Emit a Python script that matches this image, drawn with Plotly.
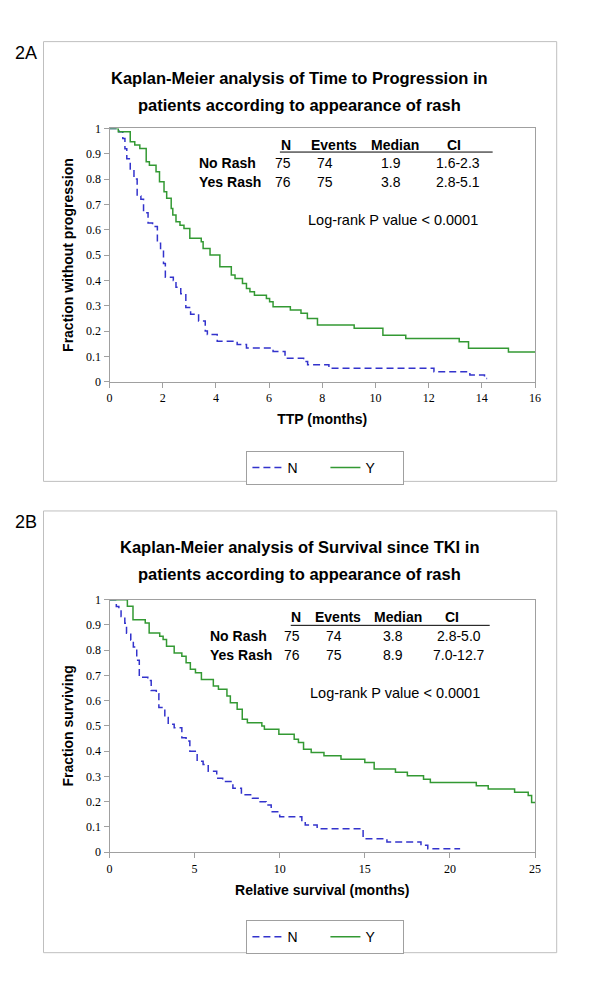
import plotly.graph_objects as go

# ---------------- Figure 2A : time to progression (months) ----------------
ttp_no_rash_t = [0, 0.35, 0.5, 0.58, 0.65, 0.78, 0.92, 1.04, 1.18, 1.28,
                 1.45, 1.62, 1.8, 1.92, 2.03, 2.1, 2.4, 2.5, 2.68, 2.87,
                 3.05, 3.35, 3.6, 3.68, 4.05, 4.8, 5.15, 6.15, 6.6, 7.3,
                 7.45, 8.25, 12.2, 13.55, 14.1, 14.2]
ttp_no_rash_s = [1.0, 0.987, 0.96, 0.92, 0.88, 0.84, 0.8, 0.733, 0.72, 0.667,
                 0.627, 0.613, 0.547, 0.52, 0.467, 0.413, 0.4, 0.373, 0.347, 0.293,
                 0.267, 0.24, 0.2, 0.187, 0.16, 0.147, 0.133, 0.12, 0.093, 0.08,
                 0.067, 0.053, 0.04, 0.027, 0.013, 0.013]
ttp_rash_t = [0, 0.33, 0.78, 0.95, 1.14, 1.38, 1.5, 1.75, 1.88, 2.05,
              2.15, 2.32, 2.38, 2.5, 2.65, 2.8, 3.02, 3.45, 3.52, 3.78,
              4.15, 4.58, 4.72, 5.0, 5.15, 5.28, 5.45, 5.9, 6.02, 6.15,
              6.8, 7.2, 7.44, 7.82, 9.2, 10.28, 11.14, 13.15, 13.5, 15.0,
              16.0]
ttp_rash_s = [1.0, 0.987, 0.947, 0.934, 0.921, 0.868, 0.855, 0.829, 0.789, 0.750,
              0.724, 0.684, 0.658, 0.632, 0.618, 0.605, 0.566, 0.553, 0.526, 0.500,
              0.454, 0.421, 0.408, 0.388, 0.368, 0.355, 0.342, 0.329, 0.316, 0.296,
              0.283, 0.270, 0.250, 0.224, 0.211, 0.184, 0.171, 0.158, 0.132, 0.118,
              0.118]

# ---------------- Figure 2B : survival since TKI (months) ----------------
os_no_rash_t = [0, 0.4, 0.55, 0.68, 0.9, 1.0, 1.25, 1.4, 1.6, 1.75,
                2.25, 2.45, 2.75, 2.9, 3.25, 3.45, 3.8, 4.25, 4.5, 4.72,
                5.15, 5.5, 5.8, 6.3, 6.65, 7.25, 7.75, 8.4, 8.85, 9.2,
                9.5, 10.0, 11.3, 11.5, 12.2, 14.9, 16.3, 18.3, 18.7, 20.6]
os_no_rash_s = [1.0, 0.973, 0.96, 0.933, 0.907, 0.867, 0.84, 0.813, 0.76, 0.693,
                0.68, 0.64, 0.627, 0.573, 0.533, 0.507, 0.493, 0.453, 0.44, 0.4,
                0.36, 0.347, 0.32, 0.293, 0.28, 0.253, 0.227, 0.213, 0.2, 0.187,
                0.16, 0.14, 0.12, 0.107, 0.093, 0.053, 0.04, 0.027, 0.013, 0.013]
os_rash_t = [0, 1.05, 1.38, 2.1, 2.33, 2.95, 3.15, 3.35, 3.8, 4.25,
             4.5, 4.75, 5.05, 5.4, 6.1, 6.4, 6.9, 7.1, 7.5, 7.8,
             8.1, 8.95, 9.1, 9.95, 10.85, 11.1, 11.4, 11.85, 12.6, 13.6,
             15.0, 15.55, 16.8, 17.5, 18.45, 18.85, 21.55, 22.25, 23.8, 24.6,
             24.8, 25.0]
os_rash_s = [1.0, 0.974, 0.921, 0.908, 0.868, 0.855, 0.842, 0.816, 0.789, 0.776,
             0.750, 0.724, 0.711, 0.684, 0.658, 0.645, 0.618, 0.592, 0.566, 0.526,
             0.513, 0.500, 0.487, 0.467, 0.447, 0.434, 0.408, 0.395, 0.382, 0.368,
             0.355, 0.329, 0.316, 0.303, 0.289, 0.276, 0.263, 0.250, 0.237, 0.224,
             0.197, 0.197]

series_names = ["N", "Y"]
ttp_ticks = [0, 2, 4, 6, 8, 10, 12, 14, 16]
os_ticks = [0, 5, 10, 15, 20, 25]
frac_ticks = [0, 0.1, 0.2, 0.3, 0.4, 0.5, 0.6, 0.7, 0.8, 0.9, 1]
frac_tick_labels = ["0", "0.1", "0.2", "0.3", "0.4", "0.5", "0.6", "0.7", "0.8", "0.9", "1"]

panel_labels = ["2A", "2B"]
panel_titles = [["Kaplan-Meier analysis of Time to Progression in",
                 "patients according to appearance of rash"],
                ["Kaplan-Meier analysis of Survival since TKI in",
                 "patients according to appearance of rash"]]
x_titles = ["TTP (months)", "Relative survival (months)"]
y_titles = ["Fraction without progression", "Fraction surviving"]
table_header = ["N", "Events", "Median", "CI"]
table_row_labels = ["No Rash", "Yes Rash"]
ttp_table = [["75", "74", "1.9", "1.6-2.3"], ["76", "75", "3.8", "2.8-5.1"]]
os_table = [["75", "74", "3.8", "2.8-5.0"], ["76", "75", "8.9", "7.0-12.7"]]
logrank_text = "Log-rank P value < 0.0001"

# ---------------- styling ----------------
W, H = 600, 1000
OFF = 8  # page body margin offset of the rendered figure
SANS = "Liberation Sans, Arial, sans-serif"
SERIF = "Liberation Serif, Times New Roman, serif"
BLUE = "#3333CC"
GREEN = "#339933"
AXIS_GREY = "#A0A0A0"
BOX_GREY = "#BFBFBF"


def px(x):
    return (x - OFF) / W


def py(y):
    return 1 - (y - OFF) / H


fig = go.Figure()

curves = [
    (ttp_no_rash_t, ttp_no_rash_s, ttp_rash_t, ttp_rash_s, "x", "y", "legend"),
    (os_no_rash_t, os_no_rash_s, os_rash_t, os_rash_s, "x2", "y2", "legend2"),
]
for (nt, ns, yt, ys, xa, ya, lg) in curves:
    fig.add_trace(go.Scatter(x=nt, y=ns, mode="lines", name=series_names[0],
                             line=dict(shape="hv", color=BLUE, width=1.5, dash="7px,4px"),
                             xaxis=xa, yaxis=ya, legend=lg))
    fig.add_trace(go.Scatter(x=yt, y=ys, mode="lines", name=series_names[1],
                             line=dict(shape="hv", color=GREEN, width=1.5),
                             xaxis=xa, yaxis=ya, legend=lg))

axis_common = dict(showline=True, linecolor=AXIS_GREY, linewidth=1, mirror=True,
                   ticks="outside", ticklen=5, tickcolor=AXIS_GREY,
                   showgrid=False, zeroline=False,
                   tickfont=dict(family=SERIF, size=12, color="black"))

# panel geometry (pixels in the final picture)
panels = [
    dict(x0=108, x1=540, ytop=123, ybot=380, box=(41, 35, 562, 481),
         label_y=47, t1=72, t2=99, head_y=140, line_y=147, row_y=(158, 177),
         rowlab_x=197, head_x=(287, 336, 398, 458), val_x=(284, 327, 394, 462),
         line_x=(281, 497), lr=(307, 216), legend_y=450, table=ttp_table,
         xr=16, xt=ttp_ticks),
    dict(x0=108, x1=540, ytop=601, ybot=857, box=(41, 511, 562, 959),
         label_y=522, t1=548, t2=575, head_y=619, line_y=627, row_y=(638, 657),
         rowlab_x=208, head_x=(297, 340, 401, 456), val_x=(293, 336, 396, 463),
         line_x=(292, 494), lr=(310, 696), legend_y=926, table=os_table,
         xr=25, xt=os_ticks),
]

annotations = []
shapes = []
for i, p in enumerate(panels):
    sfx = "" if i == 0 else "2"
    fig.update_layout(**{
        "xaxis" + sfx: dict(axis_common, domain=[px(p["x0"]), px(p["x1"])],
                            range=[0, p["xr"]], tickvals=p["xt"],
                            anchor="y" + sfx,
                            title=dict(text="<b>" + x_titles[i] + "</b>", standoff=10,
                                       font=dict(family=SANS, size=14, color="black"))),
        "yaxis" + sfx: dict(axis_common, domain=[py(p["ybot"]), py(p["ytop"])],
                            range=[0, 1], tickvals=frac_ticks, ticktext=frac_tick_labels,
                            anchor="x" + sfx,
                            title=dict(text="<b>" + y_titles[i] + "</b>", standoff=9,
                                       font=dict(family=SANS, size=14, color="black"))),
    })
    bx0, by0, bx1, by1 = p["box"]
    shapes.append(dict(type="rect", xref="paper", yref="paper",
                       x0=px(bx0), x1=px(bx1), y0=py(by1), y1=py(by0),
                       line=dict(color=BOX_GREY, width=1), layer="below"))
    shapes.append(dict(type="line", xref="paper", yref="paper",
                       x0=px(p["line_x"][0]), x1=px(p["line_x"][1]),
                       y0=py(p["line_y"]), y1=py(p["line_y"]),
                       line=dict(color="black", width=1)))
    annotations.append(dict(text=panel_labels[i], x=px(23), y=py(p["label_y"]),
                            xref="paper", yref="paper", showarrow=False,
                            xanchor="center", yanchor="middle",
                            font=dict(family=SANS, size=18, color="black")))
    for ty, txt in zip((p["t1"], p["t2"]), panel_titles[i]):
        annotations.append(dict(text="<b>" + txt + "</b>", x=px(301), y=py(ty),
                                xref="paper", yref="paper", showarrow=False,
                                xanchor="center", yanchor="middle",
                                font=dict(family=SANS, size=16.5, color="black")))
    for hx, h in zip(p["head_x"], table_header):
        annotations.append(dict(text="<b>" + h + "</b>", x=px(hx), y=py(p["head_y"]),
                                xref="paper", yref="paper", showarrow=False,
                                xanchor="center", yanchor="middle",
                                font=dict(family=SANS, size=14, color="black")))
    for ry, lab, row in zip(p["row_y"], table_row_labels, p["table"]):
        annotations.append(dict(text="<b>" + lab + "</b>", x=px(p["rowlab_x"]), y=py(ry),
                                xref="paper", yref="paper", showarrow=False,
                                xanchor="left", yanchor="middle",
                                font=dict(family=SANS, size=14, color="black")))
        for vx, v in zip(p["val_x"], row):
            annotations.append(dict(text=v, x=px(vx), y=py(ry),
                                    xref="paper", yref="paper", showarrow=False,
                                    xanchor="center", yanchor="middle",
                                    font=dict(family=SANS, size=14, color="black")))
    annotations.append(dict(text=logrank_text, x=px(p["lr"][0]), y=py(p["lr"][1]),
                            xref="paper", yref="paper", showarrow=False,
                            xanchor="left", yanchor="middle",
                            font=dict(family=SANS, size=14.5, color="black")))

legend_common = dict(orientation="h", xanchor="left", yanchor="top", x=px(247),
                     bgcolor="white", bordercolor=AXIS_GREY, borderwidth=1,
                     font=dict(family=SANS, size=14, color="black"),
                     entrywidth=33, itemwidth=30, tracegroupgap=0)

fig.update_layout(
    width=W, height=H,
    margin=dict(l=0, r=0, t=0, b=0),
    paper_bgcolor="white", plot_bgcolor="white",
    showlegend=True,
    legend=dict(legend_common, y=py(panels[0]["legend_y"])),
    legend2=dict(legend_common, y=py(panels[1]["legend_y"])),
    annotations=annotations,
    shapes=shapes,
)

fig.write_html("out.html")
